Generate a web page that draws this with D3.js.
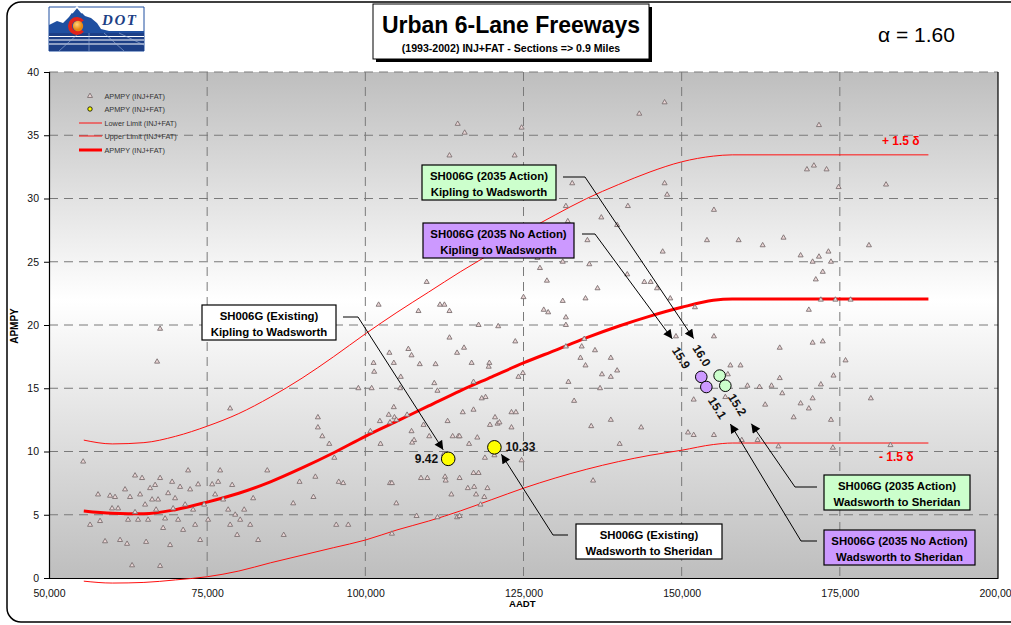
<!DOCTYPE html>
<html><head><meta charset="utf-8">
<script src="https://cdn.jsdelivr.net/npm/d3@7"></script>
<style>
body{margin:0;background:#fff}
svg{display:block;font-family:Arial,"Liberation Sans",sans-serif}
</style>
</head><body>
<svg id="chart" width="1011" height="625"></svg>
<script>
// ---- axis ticks ----
const xTicks = [50000, 75000, 100000, 125000, 150000, 175000, 200000];
const yTicks = [0, 5, 10, 15, 20, 25, 30, 35, 40];

// ---- observed sections: [AADT, APMPY (INJ+FAT)] ----
const sections = [
  [55400,9.2],[57750,6.6],[59650,6.5],[58070,4.5],[58860,2.9],[60440,6.4],[60920,5.5],[61230,3.0],
  [62020,7.0],[62500,4.6],[62810,6.4],[63600,8.1],[63600,5.2],[64080,4.6],[64400,6.6],[64710,7.9],
  [65190,5.8],[65350,2.85],[65660,4.6],[65980,7.1],[66300,6.2],[66770,7.35],[66930,5.4],[67240,6.2],
  [67560,7.9],[68040,3.95],[68350,4.7],[68830,6.7],[69140,2.6],[69460,7.6],[69620,5.5],[69930,6.3],
  [70410,4.6],[70720,7.2],[71200,3.8],[71520,5.8],[71990,8.5],[72310,7.0],[72780,5.4],[73100,4.2],
  [73570,7.4],[73890,3.0],[74520,5.8],[75150,4.6],[75790,7.4],[76260,6.6],[76740,7.6],[77050,8.5],
  [77530,6.2],[78320,5.4],[78630,4.2],[78950,7.35],[79430,5.0],[79740,3.4],[80220,4.6],[80850,5.4],
  [81800,4.2],[82270,6.3],[83060,3.0],[63130,1.0],[67560,0.95],[62340,2.7],[56490,4.2],[59970,5.5],
  [67090,17.1],[67560,19.7],[78630,13.4],
  [147300,37.6],[143300,36.7],[114600,35.9],[115700,35.2],[124700,35.6],[113300,33.4],[123600,33.4],
  [132700,31.2],[147300,31.2],[147700,30.3],[141500,29.4],[155100,29.1],[131700,29.4],[132000,28.2],
  [137300,28.5],[139800,27.9],[135100,26.7],[147000,25.8],[154000,26.7],[127200,25.3],[127600,24.5],
  [131200,25.0],[135400,24.8],[128700,23.5],[141400,24.0],[144100,23.4],[145100,23.4],[146100,22.9],
  [136700,22.9],[148200,22.1],[109700,23.4],[102100,21.6],[111800,21.6],[112500,21.6],[108400,21.1],
  [113300,21.1],[125000,22.2],[131200,21.9],[134800,22.1],[128200,21.2],[128900,21.0],[131700,20.6],
  [131700,20.0],[152100,21.4],[117900,20.0],[121000,19.9],[113300,19.0],[123700,18.7],[149100,19.1],
  [155100,19.1],[134600,18.9],[131700,18.3],[134200,18.3],[136300,18.0],[134000,17.4],[134800,16.8],
  [138800,17.4],[137400,16.1],[138800,15.9],[139800,16.4],[132100,15.5],[137100,15.0],[133000,14.0],
  [151900,14.1],[138800,12.5],[135700,12.0],[143600,11.9],[151000,11.5],[151900,11.3],[155100,11.3],
  [140200,10.6],[136000,7.7],[124900,16.2],[124200,15.9],[119600,17.0],[119500,16.7],[116800,17.0],
  [115600,18.2],[114500,17.8],[111100,16.9],[108600,16.9],[106800,18.1],[107300,17.6],[103800,17.8],
  [104500,17.0],[101300,17.0],[101400,16.3],[105600,15.9],[110900,15.4],[111400,14.8],[117100,15.5],
  [98900,15.0],[101000,15.0],[105500,15.0],[118400,14.2],[119000,14.3],[115400,13.1],[117100,13.3],
  [123100,13.1],[123800,13.1],[120500,12.7],[119700,12.1],[120900,12.2],[121200,12.3],[123100,11.9],
  [113000,12.4],[104500,13.5],[103700,12.9],[104600,12.7],[106600,12.9],[102300,12.4],[103900,12.3],
  [104900,12.5],[109200,12.1],[100800,11.6],[107300,11.6],[107700,10.9],[107400,10.7],[110100,11.2],
  [113800,11.2],[114700,11.2],[114900,11.2],[117700,11.1],[116400,10.6],[102400,10.6],[112400,9.8],
  [118900,9.5],[120400,9.7],[124700,9.3],[92500,12.7],[92500,11.9],[93200,11.2],[94300,10.6],
  [95100,9.5],[84500,8.5],[89600,7.6],[92100,8.0],[95800,7.6],[96500,7.5],[91800,6.4],[88600,5.9],
  [87100,3.4],[95400,4.2],[97300,4.2],[104900,5.9],[103900,7.5],[104200,7.5],[108800,7.9],[109800,7.9],
  [112600,8.0],[112700,7.7],[114900,7.9],[117100,8.3],[117900,8.3],[113600,6.6],[116200,7.1],[117200,7.2],
  [117500,6.6],[119300,7.1],[118800,6.4],[118200,5.8],[108100,4.9],[111400,4.8],[114500,4.8],[114900,4.9],
  [104200,3.5],
  [165500,18.2],[157700,16.8],[159300,16.8],[157300,16.1],[160400,15.2],[162300,15.1],[164200,15.2],
  [165500,15.8],[165900,14.6],[156900,14.3],[163200,13.7],[167700,12.7],
  [159000,26.7],[162800,26.3],[166100,26.9],[168800,25.5],[170700,25.0],[171700,25.4],[172300,24.2],
  [173600,25.0],[173200,25.8],[171200,23.6],[170100,21.2],[172000,22.0],[174300,22.0],[176700,22.0],
  [179600,26.3],[182300,31.1],[171700,35.8],[169800,32.3],[170900,32.6],[172900,32.3],[174800,30.9],
  [170700,18.6],[172300,18.7],[174000,16.0],[175900,17.2],[179900,14.2],[172000,15.3],[170100,13.4],
  [173600,12.5],[173900,10.3],[165300,10.4],[168800,13.8],[170700,14.2],[159500,10.9],[162000,10.9],
  [183000,10.5]
];

// ---- fitted curves ----
const curveAADT  = [55500,60000,65000,70000,75000,80000,85000,90000,95000,100000,105000,110000,
                    115000,120000,125000,130000,135000,140000,145000,150000,155000,158000,189000];
const meanAPMPY  = [5.3,5.12,5.08,5.4,6.0,6.7,7.6,8.7,9.9,11.2,12.4,13.6,14.8,15.9,17.0,18.0,19.0,
                    19.9,20.7,21.4,21.95,22.05,22.05];
const upperAPMPY = [10.9,10.6,10.7,11.2,12.0,13.0,14.3,15.8,17.5,19.3,21.0,22.6,24.2,25.7,27.3,28.7,
                    30.0,31.1,32.1,32.9,33.35,33.45,33.45];
const lowerAPMPY = [-0.25,-0.4,-0.35,-0.15,0.1,0.55,1.2,1.8,2.4,3.0,3.8,4.5,5.3,6.2,7.1,7.9,8.6,9.2,
                    9.7,10.1,10.55,10.67,10.67];

// ---- SH006G sites ----
const existingAADT  = [113100, 120400];
const existingAPMPY = [9.42, 10.33];
const noActionAADT  = [153100, 153900];
const noActionAPMPY = [15.9, 15.1];
const actionAADT    = [156000, 156900];
const actionAPMPY   = [16.0, 15.2];

const alphaValue = 1.60;

// ---------------------------------------------------------------
const svg = d3.select("#chart");
const W = 1011, H = 625;
const plot = {left: 49, right: 998, top: 72, bottom: 578};

const x = d3.scaleLinear().domain([50000, 200000]).range([plot.left, plot.right]);
const y = d3.scaleLinear().domain([0, 40]).range([plot.bottom, plot.top]);

const defs = svg.append("defs");
const grad = defs.append("linearGradient").attr("id", "plotBg")
  .attr("x1", 0).attr("y1", 0).attr("x2", 0).attr("y2", 1);
grad.append("stop").attr("offset", "0%").attr("stop-color", "#bebebe");
grad.append("stop").attr("offset", "45%").attr("stop-color", "#ffffff");
grad.append("stop").attr("offset", "100%").attr("stop-color", "#bebebe");

const orange = defs.append("radialGradient").attr("id", "sun").attr("cx", "40%").attr("cy", "35%");
orange.append("stop").attr("offset", "0%").attr("stop-color", "#ffd27a");
orange.append("stop").attr("offset", "100%").attr("stop-color", "#e8870e");

defs.append("marker").attr("id", "arrowHead")
  .attr("viewBox", "0 0 10 10").attr("refX", 10).attr("refY", 5)
  .attr("markerWidth", 10).attr("markerHeight", 9).attr("markerUnits", "userSpaceOnUse")
  .attr("orient", "auto")
  .append("path").attr("d", "M0,0L10,5L0,10z").attr("fill", "#000");

// page frame
svg.append("rect").attr("x", 7).attr("y", 2).attr("width", W + 20).attr("height", 620)
  .attr("rx", 14).attr("fill", "#fff").attr("stroke", "#000").attr("stroke-width", 1.5);

// ---- logo ----
const logo = svg.append("g").attr("transform", "translate(49,7)");
logo.append("rect").attr("width", 95).attr("height", 44).attr("fill", "#fff");
logo.append("path").attr("d", "M0,0H95V44H0Z").attr("fill", "none").attr("stroke", "#1f4fa0").attr("stroke-width", 1);
logo.append("path")
  .attr("d", "M0,18 L8,14 L14,16 L20,10 L25,3 L28,0 L32,5 L36,9 L42,11 L48,16 L52,22 L60,24 L95,24 L95,33 L0,33Z")
  .attr("fill", "#1f4fa0");
logo.append("path").attr("d", "M23,6 L28,0 L33,6").attr("fill", "none").attr("stroke", "#fff").attr("stroke-width", 1.5);
logo.append("rect").attr("y", 26).attr("width", 95).attr("height", 18).attr("fill", "#1d3f86");
[29.5, 33, 37].forEach(v => logo.append("line").attr("x1", 0).attr("x2", 95).attr("y1", v).attr("y2", v)
  .attr("stroke", "#fff").attr("stroke-width", 1.2));
[[30, 26, 10, 44], [55, 26, 75, 44], [40, 26, 40, 44], [70, 26, 95, 38]].forEach(p =>
  logo.append("line").attr("x1", p[0]).attr("y1", p[1]).attr("x2", p[2]).attr("y2", p[3])
    .attr("stroke", "#9fb3d8").attr("stroke-width", 0.6));
logo.append("path").attr("d", d3.arc()({innerRadius: 5, outerRadius: 9, startAngle: 0.7, endAngle: 2 * Math.PI - 0.7}))
  .attr("transform", "translate(28,19) rotate(90)").attr("fill", "#e2231a");
logo.append("circle").attr("cx", 29).attr("cy", 19).attr("r", 5.2).attr("fill", "url(#sun)");
logo.append("text").attr("x", 53).attr("y", 18).attr("font-family", "'Liberation Serif','DejaVu Serif',serif")
  .attr("font-style", "italic").attr("font-weight", "bold").attr("font-size", 15)
  .attr("fill", "#1d3f86").attr("textLength", 34).text("DOT");

// ---- title box ----
svg.append("rect").attr("x", 376).attr("y", 7).attr("width", 276).attr("height", 55).attr("fill", "#000");
svg.append("rect").attr("x", 373).attr("y", 4).attr("width", 276).attr("height", 55)
  .attr("fill", "#fff").attr("stroke", "#000").attr("stroke-width", 1);
svg.append("text").attr("x", 511).attr("y", 33).attr("text-anchor", "middle")
  .attr("font-weight", "bold").attr("font-size", 23).text("Urban 6-Lane Freeways");
svg.append("text").attr("x", 511).attr("y", 52).attr("text-anchor", "middle")
  .attr("font-weight", "bold").attr("font-size", 10.6).text("(1993-2002) INJ+FAT - Sections => 0.9 Miles");

svg.append("text").attr("x", 878).attr("y", 42).attr("font-size", 21)
  .text("\u03b1 = " + alphaValue.toFixed(2));

// ---- plot area ----
svg.append("rect").attr("x", plot.left).attr("y", plot.top)
  .attr("width", plot.right - plot.left).attr("height", plot.bottom - plot.top)
  .attr("fill", "url(#plotBg)");

const grid = svg.append("g").attr("stroke", "#7a7a7a").attr("stroke-width", 1).attr("stroke-dasharray", "9,6");
yTicks.filter(v => v > 0).forEach(v => grid.append("line")
  .attr("x1", plot.left).attr("x2", plot.right).attr("y1", y(v)).attr("y2", y(v)));
xTicks.filter(v => v > 50000 && v < 200000).forEach(v => grid.append("line")
  .attr("y1", plot.top).attr("y2", plot.bottom).attr("x1", x(v)).attr("x2", x(v)));

// axes
const yAxis = d3.axisLeft(y).tickValues(yTicks).tickSize(5).tickFormat(d3.format("d"));
const gy = svg.append("g").attr("transform", `translate(${plot.left},0)`).call(yAxis);
gy.select(".domain").attr("stroke", "#000").attr("stroke-width", 1.2);
gy.selectAll(".tick text").attr("font-size", 10.5).attr("fill", "#111").attr("x", -10)
  .attr("font-family", "Arial,'Liberation Sans',sans-serif");

const xAxis = d3.axisBottom(x).tickValues(xTicks).tickSize(0).tickFormat(d3.format(","));
const gx = svg.append("g").attr("transform", `translate(0,${plot.bottom})`).call(xAxis);
gx.select(".domain").attr("stroke", "#000").attr("stroke-width", 1.2);
gx.selectAll(".tick text").attr("font-size", 10.5).attr("fill", "#111").attr("dy", "1.55em")
  .attr("font-family", "Arial,'Liberation Sans',sans-serif");

svg.append("line").attr("x1", plot.right).attr("x2", plot.right).attr("y1", plot.top).attr("y2", plot.bottom)
  .attr("stroke", "#000").attr("stroke-width", 1.2);

svg.append("text").attr("x", 509).attr("y", 607).attr("font-weight", "bold").attr("font-size", 9.6).text("AADT");
svg.append("text").attr("transform", "translate(18,326) rotate(-90)").attr("text-anchor", "middle")
  .attr("font-weight", "bold").attr("font-size", 10).text("APMPY");

// ---- curves ----
const line = d3.line().x(d => x(d[0])).y(d => y(d[1])).curve(d3.curveMonotoneX);
const zip = arr => curveAADT.map((a, i) => [a, arr[i]]);
svg.append("path").attr("d", line(zip(upperAPMPY))).attr("fill", "none").attr("stroke", "#ff1010").attr("stroke-width", 1);
svg.append("path").attr("d", line(zip(lowerAPMPY))).attr("fill", "none").attr("stroke", "#ff1010").attr("stroke-width", 1);
svg.append("path").attr("d", line(zip(meanAPMPY))).attr("fill", "none").attr("stroke", "#ff0000").attr("stroke-width", 3);

// ---- observed sections ----
const tri = d3.symbol().type(d3.symbolTriangle).size(11);
svg.append("g").selectAll("path").data(sections).join("path")
  .attr("d", tri).attr("transform", d => `translate(${x(d[0])},${y(d[1])})`)
  .attr("fill", "#ecd6d6").attr("stroke", "#7c7172").attr("stroke-width", 0.9);

// ---- legend ----
const lg = svg.append("g").attr("font-size", 7.3).attr("fill", "#333");
const legendRows = [96, 109, 123, 136, 150];
lg.append("path").attr("d", tri).attr("transform", `translate(90,${legendRows[0]})`)
  .attr("fill", "#ecd6d6").attr("stroke", "#7c7172").attr("stroke-width", 0.9);
lg.append("circle").attr("cx", 90).attr("cy", legendRows[1]).attr("r", 2.2).attr("fill", "#ffff00").attr("stroke", "#000").attr("stroke-width", 0.8);
lg.append("line").attr("x1", 79).attr("x2", 102).attr("y1", legendRows[2]).attr("y2", legendRows[2]).attr("stroke", "#ff1010").attr("stroke-width", 1);
lg.append("line").attr("x1", 79).attr("x2", 102).attr("y1", legendRows[3]).attr("y2", legendRows[3]).attr("stroke", "#ff1010").attr("stroke-width", 1);
lg.append("line").attr("x1", 79).attr("x2", 102).attr("y1", legendRows[4]).attr("y2", legendRows[4]).attr("stroke", "#ff0000").attr("stroke-width", 3);
["APMPY (INJ+FAT)", "APMPY (INJ+FAT)", "Lower Limit (INJ+FAT)", "Upper Limit (INJ+FAT)", "APMPY (INJ+FAT)"]
  .forEach((t, i) => lg.append("text").attr("x", 104.5).attr("y", legendRows[i] + 2.5).text(t));

// ---- limit labels ----
svg.append("text").attr("x", 882).attr("y", 145).attr("fill", "#ff0000").attr("font-weight", "bold")
  .attr("font-size", 12).text("+ 1.5 \u03b4");
svg.append("text").attr("x", 879).attr("y", 461).attr("fill", "#ff0000").attr("font-weight", "bold")
  .attr("font-size", 12).text("- 1.5 \u03b4");

// ---- annotation callouts ----
function callout(box, lines, fill, path) {
  const g = svg.append("g");
  g.append("path").attr("d", d3.line()(path)).attr("fill", "none").attr("stroke", "#000")
    .attr("stroke-width", 1).attr("marker-end", "url(#arrowHead)");
  g.append("rect").attr("x", box[0]).attr("y", box[1]).attr("width", box[2]).attr("height", box[3])
    .attr("fill", fill).attr("stroke", "#000").attr("stroke-width", 1.2);
  lines.forEach((t, i) => g.append("text").attr("x", box[0] + box[2] / 2).attr("y", box[1] + 15 + i * 16)
    .attr("text-anchor", "middle").attr("font-weight", "bold").attr("font-size", 11.4).text(t));
}
const GREEN = "#ccffcc", PURPLE = "#cc99ff";

callout([422, 165, 134, 35], ["SH006G (2035 Action)", "Kipling to Wadsworth"], GREEN,
  [[563, 177], [585, 177], [x(actionAADT[0]) - 26, y(actionAPMPY[0]) - 37]]);
callout([423, 223, 151, 35], ["SH006G (2035 No Action)", "Kipling to Wadsworth"], PURPLE,
  [[582, 234], [595, 234], [x(noActionAADT[0]) - 29, y(noActionAPMPY[0]) - 38]]);
callout([202, 305, 134, 35], ["SH006G (Existing)", "Kipling to Wadsworth"], "#fff",
  [[343, 317], [358, 317], [x(existingAADT[0]) - 5, y(existingAPMPY[0]) - 9]]);
callout([576, 524, 146, 35], ["SH006G (Existing)", "Wadsworth to Sheridan"], "#fff",
  [[568, 535], [553, 535], [x(existingAADT[1]) + 7, y(existingAPMPY[1]) + 7]]);
callout([824, 475, 146, 35], ["SH006G (2035 Action)", "Wadsworth to Sheridan"], GREEN,
  [[817, 487], [795, 487], [x(actionAADT[1]) + 26, y(actionAPMPY[1]) + 38]]);
callout([824, 530, 151, 35], ["SH006G (2035 No Action)", "Wadsworth to Sheridan"], PURPLE,
  [[817, 541], [801, 541], [x(noActionAADT[1]) + 24, y(noActionAPMPY[1]) + 37]]);

// ---- SH006G site markers ----
svg.append("g").selectAll("circle").data(existingAADT.map((a, i) => [a, existingAPMPY[i]])).join("circle")
  .attr("cx", d => x(d[0])).attr("cy", d => y(d[1])).attr("r", 6.8)
  .attr("fill", "#ffff00").attr("stroke", "#000").attr("stroke-width", 1);
svg.append("g").selectAll("circle").data(noActionAADT.map((a, i) => [a, noActionAPMPY[i]])).join("circle")
  .attr("cx", d => x(d[0])).attr("cy", d => y(d[1])).attr("r", 5.8)
  .attr("fill", PURPLE).attr("stroke", "#000").attr("stroke-width", 1);
svg.append("g").selectAll("circle").data(actionAADT.map((a, i) => [a, actionAPMPY[i]])).join("circle")
  .attr("cx", d => x(d[0])).attr("cy", d => y(d[1])).attr("r", 5.8)
  .attr("fill", GREEN).attr("stroke", "#000").attr("stroke-width", 1);

// value labels
const vl = svg.append("g").attr("font-weight", "bold").attr("font-size", 12).attr("fill", "#111");
vl.append("text").attr("x", x(existingAADT[0]) - 10).attr("y", y(existingAPMPY[0]) + 4)
  .attr("text-anchor", "end").text(existingAPMPY[0].toFixed(2));
vl.append("text").attr("x", x(existingAADT[1]) + 11).attr("y", y(existingAPMPY[1]) + 4)
  .text(existingAPMPY[1].toFixed(2));
const rot = (cx, cy, t) => vl.append("text").attr("text-anchor", "middle")
  .attr("transform", `translate(${cx},${cy}) rotate(58)`).attr("dy", "0.35em").text(t);
rot(x(noActionAADT[0]) - 20, y(noActionAPMPY[0]) - 19, noActionAPMPY[0].toFixed(1));
rot(x(actionAADT[0]) - 18, y(actionAPMPY[0]) - 20, actionAPMPY[0].toFixed(1));
rot(x(noActionAADT[1]) + 11, y(noActionAPMPY[1]) + 21, noActionAPMPY[1].toFixed(1));
rot(x(actionAADT[1]) + 12, y(actionAPMPY[1]) + 19, actionAPMPY[1].toFixed(1));
</script>
</body></html>
